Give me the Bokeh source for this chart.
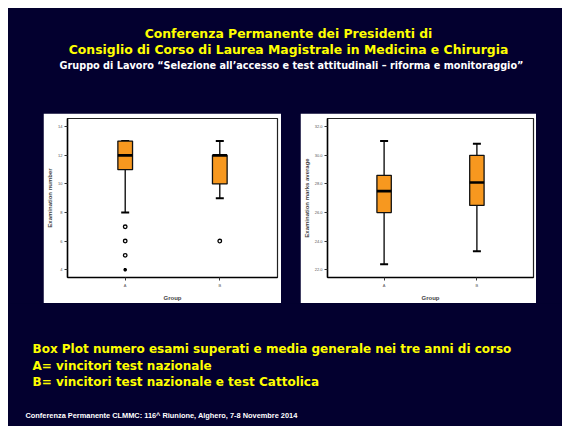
from bokeh.plotting import figure
from bokeh.models import Range1d, FixedTicker, Label, Spacer, NumeralTickFormatter
from bokeh.layouts import column, row
from bokeh.embed import file_html
from bokeh.resources import INLINE

NAVY = "#03002F"
ORANGE = "#F7981F"
YELLOW = "#FFFF00"
TFONT = "DejaVu Sans"

# ---- data ----
groups = ["A", "B"]

exam_low = [8, 9]
exam_q1 = [11, 10]
exam_med = [12, 12]
exam_q3 = [13, 12]
exam_high = [13, 13]
exam_out_group = ["A", "A", "A", "B"]
exam_out_val = [7, 6, 5, 6]
exam_ext_group = ["A"]
exam_ext_val = [4]
exam_ticks = [4, 6, 8, 10, 12, 14]

marks_low = [22.4, 23.3]
marks_q1 = [26.0, 26.5]
marks_med = [27.5, 28.1]
marks_q3 = [28.6, 30.0]
marks_high = [31.0, 30.8]
marks_ticks = [22, 24, 26, 28, 30, 32]

title_lines = ["Conferenza Permanente dei Presidenti di",
               "Consiglio di Corso di Laurea Magistrale in Medicina e Chirurgia"]
subtitle = "Gruppo di Lavoro \u201cSelezione all\u2019accesso e test attitudinali \u2013 riforma e monitoraggio\u201d"
caption_lines = ["Box Plot numero esami superati e media generale nei tre anni di corso",
                 "A= vincitori test nazionale",
                 "B= vincitori test nazionale e test Cattolica"]
footer = "Conferenza Permanente CLMMC: 116^ Riunione,  Alghero, 7-8 Novembre 2014"

BW = 0.155


def box_chart(width, height, borders, low, q1, med, q3, high, y_range, ticks, ylabel,
              fmt=None, out_g=None, out_v=None, ext_g=None, ext_v=None):
    bl, br, bt, bb = borders
    pos = {g: i + 1 for i, g in enumerate(groups)}
    xs = [pos[g] for g in groups]
    p = figure(width=width, height=height, x_range=Range1d(0.39, 2.61), y_range=Range1d(*y_range),
               output_backend="svg", toolbar_location=None,
               min_border_left=bl, min_border_right=br, min_border_top=bt, min_border_bottom=bb)
    p.background_fill_color = "white"
    p.border_fill_color = "white"
    p.outline_line_color = "#222222"
    p.outline_line_width = 1.2
    p.grid.visible = False
    # whiskers
    p.segment(x0=xs, y0=low, x1=xs, y1=q1, line_color="black", line_width=1.3)
    p.segment(x0=xs, y0=q3, x1=xs, y1=high, line_color="black", line_width=1.3)
    p.scatter(x=xs, y=low, marker="dash", size=8, line_color="black", line_width=2)
    p.scatter(x=xs, y=high, marker="dash", size=8, line_color="black", line_width=2)
    # boxes
    p.vbar(x=xs, width=BW, bottom=q1, top=q3, fill_color=ORANGE, line_color="#111111", line_width=1.3)
    p.segment(x0=[x - BW / 2 for x in xs], y0=med, x1=[x + BW / 2 for x in xs], y1=med,
              line_color="black", line_width=2.6)
    if out_g:
        p.scatter(x=[pos[g] for g in out_g], y=out_v, marker="circle", size=3.6,
                  fill_color="white", line_color="black", line_width=1.3)
    if ext_g:
        p.scatter(x=[pos[g] for g in ext_g], y=ext_v, marker="asterisk", size=3.5,
                  line_color="black", line_width=1.4)
    # axes
    p.yaxis.ticker = FixedTicker(ticks=ticks)
    if fmt:
        p.yaxis.formatter = NumeralTickFormatter(format=fmt)
    p.xaxis.ticker = FixedTicker(ticks=xs)
    p.xaxis.major_label_overrides = {x: g for x, g in zip(xs, groups)}
    for ax in (p.xaxis[0], p.yaxis[0]):
        ax.axis_line_color = "black"
        ax.axis_line_width = 1.5
        ax.major_tick_out = 3
        ax.major_tick_in = 0
        ax.major_tick_line_color = "#333333"
        ax.minor_tick_line_color = None
        ax.major_label_text_font_size = "4px"
        ax.major_label_text_color = "#555555"
        ax.major_label_text_font = "Liberation Sans"
        ax.major_label_standoff = 2
        ax.axis_label_text_font = "Liberation Sans"
        ax.axis_label_text_font_size = "6px"
        ax.axis_label_text_font_style = "bold"
        ax.axis_label_text_color = "#444444"
    p.xaxis.axis_label = "Group"
    p.xaxis.axis_label_standoff = 4
    p.yaxis.axis_label = ylabel
    p.yaxis.axis_label_standoff = 2
    return p


W = 554

top = figure(width=W, height=105, output_backend="svg", toolbar_location=None,
             x_range=Range1d(0, 1), y_range=Range1d(0, 1), min_border=0)
top.axis.visible = False
top.grid.visible = False
top.outline_line_color = None
top.background_fill_color = NAVY
top.border_fill_color = NAVY
for txt, yy in zip(title_lines, [80, 64]):
    top.add_layout(Label(x=280, y=yy, x_units="screen", y_units="screen", text=txt,
                         text_align="center", text_baseline="middle", text_color=YELLOW,
                         text_font=TFONT, text_font_style="bold", text_font_size="12.4px"))
top.add_layout(Label(x=283, y=48.5, x_units="screen", y_units="screen", text=subtitle,
                     text_align="center", text_baseline="middle", text_color="white",
                     text_font=TFONT, text_font_style="bold", text_font_size="9.7px"))

p1 = box_chart(238, 190, (24, 4, 4, 24), exam_low, exam_q1, exam_med, exam_q3, exam_high,
               (3.45, 14.58), exam_ticks, "Examination number",
               out_g=exam_out_group, out_v=exam_out_val, ext_g=exam_ext_group, ext_v=exam_ext_val)
p2 = box_chart(236, 190, (27, 3, 5, 23), marks_low, marks_q1, marks_med, marks_q3, marks_high,
               (21.47, 32.57), marks_ticks, "Examination marks average", fmt="0.0")

bottom = figure(width=W, height=123, output_backend="svg", toolbar_location=None,
                x_range=Range1d(0, 1), y_range=Range1d(0, 1), min_border=0)
bottom.axis.visible = False
bottom.grid.visible = False
bottom.outline_line_color = None
bottom.background_fill_color = NAVY
bottom.border_fill_color = NAVY
for txt, yy in zip(caption_lines, [78, 61, 44.3]):
    bottom.add_layout(Label(x=24, y=yy, x_units="screen", y_units="screen", text=txt,
                            text_align="left", text_baseline="middle", text_color=YELLOW,
                            text_font=TFONT, text_font_style="bold", text_font_size="12px"))
bottom.add_layout(Label(x=17, y=11, x_units="screen", y_units="screen", text=footer,
                        text_align="left", text_baseline="middle", text_color="white",
                        text_font="Liberation Sans", text_font_style="bold", text_font_size="7.4px"))

bg = {"background-color": NAVY}
mid = row(Spacer(width=35, height=190, styles=bg), p1, Spacer(width=19, height=190, styles=bg), p2,
          Spacer(width=26, height=190, styles=bg), styles=bg)
layout = column(top, mid, bottom, styles=bg, margin=(8, 0, 0, 8))

open("out.html", "w").write(file_html(layout, INLINE))
